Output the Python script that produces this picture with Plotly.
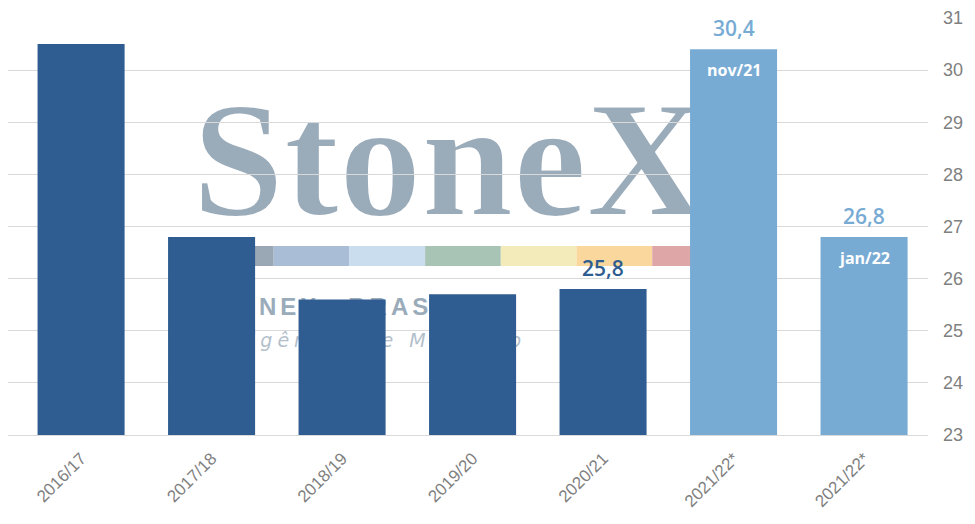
import plotly.graph_objects as go

# safra / producao (milhoes de sacas)
seasons = ["2016/17", "2017/18", "2018/19", "2019/20", "2020/21", "2021/22*", "2021/22*"]
production = [30.5, 26.8, 25.6, 25.7, 25.8, 30.4, 26.8]
value_labels = [None, None, None, None, "25,8", "30,4", "26,8"]
inner_labels = [None, None, None, None, None, "nov/21", "jan/22"]
y_ticks = [23, 24, 25, 26, 27, 28, 29, 30, 31]

DARK = "#2F5D91"
LIGHT = "#78ABD4"
bar_colors = [DARK] * 5 + [LIGHT] * 2

# watermark strip colours
strip_colors = ["#9AA8B6", "#AABDD6", "#C9DDEE", "#A8C4B5", "#F3EBBA", "#FAD89D", "#DFA6A7"]

# the page body has an 8px margin, so the figure is made 8px smaller
OFF = 8
W, H = 975 - OFF, 524 - OFF
L, R, T, B = 8 - OFF, 47, 18 - OFF, 89


# page pixel -> paper coordinates (plot area is 8..928 x 18..435 on the page)
def px_x(p):
    return (p - 8) / 920


def px_y(p):
    return (435 - p) / 417


xs = list(range(len(seasons)))

fig = go.Figure()
fig.add_trace(go.Bar(
    x=xs,
    y=production,
    marker=dict(color=bar_colors, line=dict(width=0)),
    hoverinfo="skip",
))

# value labels above bars, month labels inside
annotations = []
for i, (v, lab, inner) in enumerate(zip(production, value_labels, inner_labels)):
    if lab:
        annotations.append(dict(
            x=i, y=v, text=lab, showarrow=False, yanchor="bottom", yshift=5,
            font=dict(family="Open Sans", size=21, color=bar_colors[i], weight=600),
        ))
    if inner:
        annotations.append(dict(
            x=i, y=v, text=inner, showarrow=False, yanchor="top", yshift=-8,
            font=dict(family="Open Sans", size=16, color="white", weight=700),
        ))

# watermark (logo) drawn beneath the grid
shapes = []
seg_w = 75.7
for k, c in enumerate(strip_colors):
    x0 = 198 + k * seg_w
    shapes.append(dict(
        type="rect", xref="paper", yref="paper", layer="below",
        x0=px_x(x0), x1=px_x(x0 + seg_w), y0=px_y(266), y1=px_y(246),
        fillcolor=c, line=dict(width=0),
    ))


def wm_text(text, x0, x1, y0, y1, font, pos="middle center"):
    return dict(
        type="rect", xref="paper", yref="paper", layer="below",
        x0=px_x(x0), x1=px_x(x1), y0=px_y(y1), y1=px_y(y0),
        fillcolor="rgba(0,0,0,0)", line=dict(width=0),
        label=dict(text=text, font=font, textposition=pos, padding=0),
    )


# bold serif thinned a little with a white outline
shapes.append(wm_text('<span style="stroke:white;stroke-width:2px">StoneX</span>',
                      149, 749, 84, 199,
                      dict(family="Liberation Serif", size=165, color="#9AABBA", weight=700)))
shapes.append(wm_text('<span style="letter-spacing:4px">STONEX\u2003BRASIL</span>',
                      195, 700, 289, 319,
                      dict(family="Liberation Sans", size=24, color="#9AABBA", weight=700),
                      pos="middle left"))
shapes.append(wm_text('<span style="letter-spacing:5px">Inteligência de Mercado</span>',
                      180, 700, 325, 353,
                      dict(family="DejaVu Sans", size=19, color="#B3BFCB", style="italic"),
                      pos="middle left"))

fig.update_layout(
    width=W, height=H,
    margin=dict(l=L, r=R, t=T, b=B),
    paper_bgcolor="white",
    plot_bgcolor="white",
    showlegend=False,
    bargap=0.333,
    annotations=annotations,
    shapes=shapes,
)
fig.update_xaxes(
    range=[-0.56, 6.49],
    tickvals=xs,
    ticktext=seasons,
    tickangle=-45,
    tickfont=dict(family="Liberation Sans", size=17, color="#7F7F7F"),
    showgrid=False,
    showline=True,
    linecolor="#D9D9D9",
    linewidth=1,
    ticks="",
    ticklabelstandoff=6,
)
fig.update_yaxes(
    range=[23, 31],
    side="right",
    tickvals=y_ticks,
    tickfont=dict(family="Liberation Sans", size=18, color="#808080"),
    showgrid=True,
    gridcolor="#D9D9D9",
    gridwidth=1,
    zeroline=False,
    ticklabelstandoff=14,
)

fig.write_html("out.html")
